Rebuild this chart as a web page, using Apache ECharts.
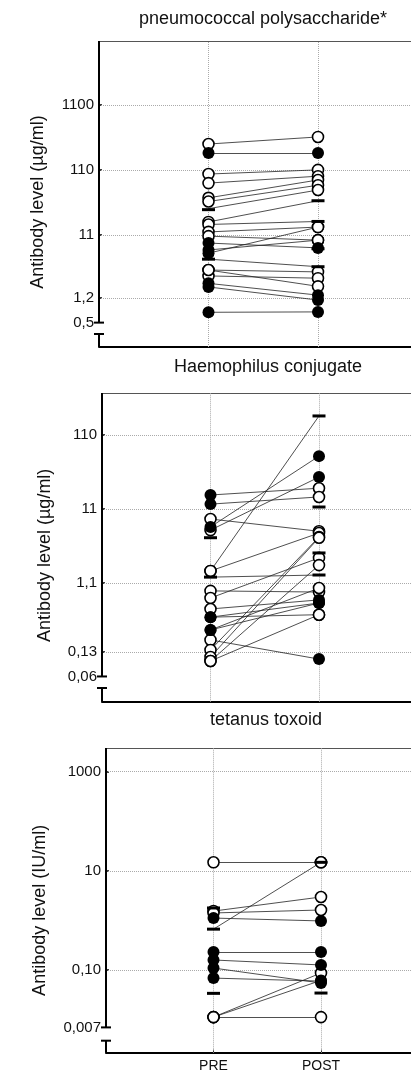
<!DOCTYPE html>
<html><head><meta charset="utf-8">
<script src="https://cdn.jsdelivr.net/npm/echarts@6/dist/echarts.min.js"></script>
<style>html,body{margin:0;padding:0;background:#fff}#c{width:411px;height:1074px}</style>
</head><body><div id="c"></div>
<script>
// ---------- DATA ----------
const categories = ['PRE', 'POST'];

// Panel 1: pneumococcal polysaccharide
const p1Title = 'pneumococcal polysaccharide*';
const p1AxisName = 'Antibody level (µg/ml)';
const p1TickValues = [1100, 110, 11, 1.2, 0.5];
const p1TickLabels = ['1100', '110', '11', '1,2', '0,5'];
const p1Pre      = [274, 200, 95, 69, 41, 36, 28, 17.5, 16, 12.3, 10.6, 8.3, 6.5, 5.8, 4.7, 3.2, 2.6, 3.2, 2.0, 1.76, 0.72];
const p1PreType  = ['o','f','o','o','o','o','n','o','o','o','o','f','f','f','n','o','o','o','f','f','f'];
const p1Post     = [352, 200, 110, 88, 77, 64, 54, 37, 17.8, 14.6, 9.2, 7.0, 9.2, 14.6, 3.6, 3.0, 2.4, 1.8, 1.32, 1.11, 0.73];
const p1PostType = ['o','f','o','o','o','o','o','n','n','o','o','f','o','o','n','o','o','o','f','f','f'];
const p1PreBars  = [27, 4.7];
const p1PostBars = [37, 17.8, 6.8, 3.6];

// Panel 2: Haemophilus conjugate
const p2Title = 'Haemophilus conjugate';
const p2AxisName = 'Antibody level (µg/ml)';
const p2TickValues = [110, 11, 1.1, 0.13, 0.06];
const p2TickLabels = ['110', '11', '1,1', '0,13', '0,06'];
const p2Pre      = [17, 12.8, 8.05, 6.3, 5.7, 1.6, 1.6, 1.32, 0.86, 0.69, 0.49, 0.38, 0.38, 0.255, 0.255, 0.187, 0.137, 0.11, 0.097, 0.097];
const p2PreType  = ['f','f','o','f','o','o','o','n','o','o','o','f','f','f','f','o','o','o','o','o'];
const p2Post     = [21, 16, 5.5, 57, 29.7, 199, 5.2, 1.41, 0.83, 2.4, 0.65, 0.59, 0.41, 0.94, 0.59, 0.103, 4.6, 4.5, 1.92, 0.41];
const p2PostType = ['o','o','o','f','f','n','o','n','o','o','f','f','o','o','f','f','o','o','o','o'];
const p2PreBars  = [4.5, 1.32];
const p2PostBars = [199, 11.7, 2.8, 1.41];

// Panel 3: tetanus toxoid
const p3Title = 'tetanus toxoid';
const p3AxisName = 'Antibody level (IU/ml)';
const p3TickValues = [1000, 10, 0.10, 0.007];
const p3TickLabels = ['1000', '10', '0,10', '0,007'];
const p3Pre      = [14.9, 1.55, 1.42, 1.12, 0.67, 0.232, 0.16, 0.11, 0.069, 0.0113, 0.0113, 0.0113];
const p3PreType  = ['o','o','o','f','n','f','f','f','f','o','o','o'];
const p3Post     = [14.9, 2.98, 1.63, 0.98, 14.9, 0.232, 0.127, 0.055, 0.06, 0.0875, 0.062, 0.0113];
const p3PostType = ['o','o','o','f','o','f','f','f','f','o','f','o'];
const p3PreBars  = [1.79, 0.67, 0.034];
const p3PostBars = [14.9, 0.0345];

// ---------- LAYOUT ----------
const W = 411, H = 1074;
const FONT = 'Liberation Sans, Arial, Helvetica, sans-serif';
const panels = [
  {title:p1Title, axisName:p1AxisName, ticks:p1TickValues, tickLabels:p1TickLabels,
   pre:p1Pre, preType:p1PreType, post:p1Post, postType:p1PostType, preBars:p1PreBars, postBars:p1PostBars, xLabels:false,
   L:{left:99, scale:109.5, top:41, bottomPx:347, yMin:-0.675, yMax:4.018, brk:-0.476, titleX:263, titleY:10, nameGap:52, namePad:16}},
  {title:p2Title, axisName:p2AxisName, ticks:p2TickValues, tickLabels:p2TickLabels,
   pre:p2Pre, preType:p2PreType, post:p2Post, postType:p2PostType, preBars:p2PreBars, postBars:p2PostBars, xLabels:false,
   L:{left:102, scale:108.5, top:393, bottomPx:701.7, yMin:-1.563, yMax:2.609, brk:-1.378, titleX:268, titleY:358, nameGap:48, namePad:16}},
  {title:p3Title, axisName:p3AxisName, ticks:p3TickValues, tickLabels:p3TickLabels,
   pre:p3Pre, preType:p3PreType, post:p3Post, postType:p3PostType, preBars:p3PreBars, postBars:p3PostBars, xLabels:true,
   L:{left:106, scale:107.5, top:748, bottomPx:1052.7, yMin:-2.665, yMax:3.478, brk:-2.423, titleX:266, titleY:711, nameGap:57, namePad:20}}
];

const lg = Math.log10;
const option = {animation:false, backgroundColor:'#fff', title:[], grid:[], xAxis:[], yAxis:[], series:[]};

panels.forEach((p, i) => {
  const L = p.L;
  const xMax = (W - L.left) / L.scale;
  const tickLogs = p.ticks.map(lg);
  const lowest = tickLogs[tickLogs.length - 1];
  const labelOf = v => {
    let best = 0, bd = Infinity;
    tickLogs.forEach((t, k) => { const d = Math.abs(t - v); if (d < bd) { bd = d; best = k; } });
    return p.tickLabels[best];
  };

  option.title.push({
    text: p.title, left: L.titleX, top: L.titleY, textAlign: 'center', padding: 0,
    textStyle: {fontSize: 18, fontWeight: 'normal', color: '#111', fontFamily: FONT}
  });
  option.grid.push({left: L.left, right: 0, top: L.top, bottom: H - L.bottomPx, containLabel: false});

  option.xAxis.push({
    type: 'value', gridIndex: i, position: 'bottom', min: 0, max: xMax,
    axisLine: {show: true, onZero: false, lineStyle: {color: '#000', width: 2}},
    axisTick: p.xLabels ? {show: true, inside: true, length: 3, customValues: [1, 2], lineStyle: {color: '#000'}} : {show: false},
    axisLabel: p.xLabels ? {show: true, customValues: [1, 2], formatter: v => categories[Math.round(v) - 1] || '',
      fontSize: 14, color: '#111', fontFamily: FONT, margin: 6} : {show: false},
    splitLine: {show: false}
  });
  option.xAxis.push({
    type: 'value', gridIndex: i, position: 'top', min: 0, max: xMax,
    axisLine: {show: true, onZero: false, lineStyle: {color: '#555', width: 1}},
    axisTick: {show: false}, axisLabel: {show: false}, splitLine: {show: false}
  });
  option.yAxis.push({
    type: 'value', gridIndex: i, min: L.yMin, max: L.yMax,
    axisLine: {show: false, onZero: false},
    axisTick: {show: true, inside: true, length: 3, customValues: tickLogs.slice(0, -1), lineStyle: {color: '#000', width: 1.5}},
    axisLabel: {show: true, customValues: tickLogs, formatter: v => labelOf(v), fontSize: 15, color: '#111', fontFamily: FONT, margin: 5},
    splitLine: {show: false},
    name: p.axisName, nameLocation: 'middle', nameGap: L.nameGap, nameRotate: 90,
    nameTextStyle: {fontSize: 18, color: '#111', fontFamily: FONT, padding: [0, L.namePad, 0, 0]}
  });

  const xi = 2 * i;
  const grid = {type: 'dotted', color: '#aaa', width: 1};
  const axisLS = {type: 'solid', color: '#000', width: 2};
  const ml = [];
  tickLogs.slice(0, -1).forEach(t => ml.push({yAxis: t, lineStyle: grid}));
  ml.push({xAxis: 1, lineStyle: grid});
  ml.push({xAxis: 2, lineStyle: grid});
  ml.push([{coord: [0, lowest], lineStyle: axisLS}, {coord: [0, L.yMax]}]);
  ml.push([{coord: [0, L.yMin], lineStyle: axisLS}, {coord: [0, L.brk]}]);

  // frame (axis segments with break, gridlines)
  option.series.push({
    type: 'scatter', xAxisIndex: xi, yAxisIndex: i, clip: false, silent: true, z: 1,
    symbol: 'rect', symbolSize: [10, 2], itemStyle: {color: '#000', opacity: 1},
    data: [[0, lowest], [0, L.brk]],
    markLine: {silent: true, z: 1, symbol: 'none', label: {show: false}, animation: false, data: ml}
  });
  // paired lines
  option.series.push({
    type: 'lines', coordinateSystem: 'cartesian2d', xAxisIndex: xi, yAxisIndex: i, silent: true, z: 3,
    lineStyle: {color: '#222', width: 0.8, opacity: 1},
    data: p.pre.map((v, k) => ({coords: [[1, lg(v)], [2, lg(p.post[k])]]}))
  });
  const openPts = [], fillPts = [];
  p.pre.forEach((v, k) => { if (p.preType[k] === 'o') openPts.push([1, lg(v)]); else if (p.preType[k] === 'f') fillPts.push([1, lg(v)]); });
  p.post.forEach((v, k) => { if (p.postType[k] === 'o') openPts.push([2, lg(v)]); else if (p.postType[k] === 'f') fillPts.push([2, lg(v)]); });
  option.series.push({
    type: 'scatter', xAxisIndex: xi, yAxisIndex: i, silent: true, z: 6, clip: false,
    symbol: 'circle', symbolSize: 11, itemStyle: {color: '#fff', borderColor: '#000', borderWidth: 1.6, opacity: 1},
    data: openPts
  });
  option.series.push({
    type: 'scatter', xAxisIndex: xi, yAxisIndex: i, silent: true, z: 6, clip: false,
    symbol: 'circle', symbolSize: 12, itemStyle: {color: '#000', opacity: 1},
    data: fillPts
  });
  option.series.push({
    type: 'scatter', xAxisIndex: xi, yAxisIndex: i, silent: true, z: 7, clip: false,
    symbol: 'rect', symbolSize: [13, 3], itemStyle: {color: '#000', opacity: 1},
    data: p.preBars.map(v => [1, lg(v)]).concat(p.postBars.map(v => [2, lg(v)]))
  });
});

const chart = echarts.init(document.getElementById('c'), null, {renderer: 'canvas'});
chart.setOption(option);
</script>
</body></html>
